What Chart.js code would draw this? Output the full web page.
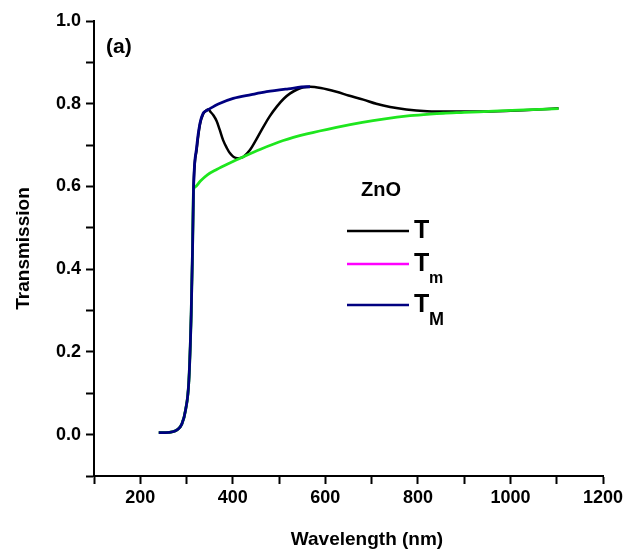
<!DOCTYPE html>
<html>
<head>
<meta charset="utf-8">
<script src="https://cdn.jsdelivr.net/npm/chart.js@4/dist/chart.umd.min.js"></script>
<style>
  html, body { margin: 0; padding: 0; background: #fff; }
</style>
</head>
<body>
<canvas id="chart" width="640" height="556"></canvas>
<script>
// shared absorption edge (all three curves overlap here)
const edgeWl = [240, 255, 270, 280, 290, 298, 305, 310, 313, 315];
const edgeT  = [0.005, 0.005, 0.007, 0.012, 0.026, 0.06, 0.13, 0.29, 0.45, 0.59];

// T (measured transmission)
const tWl = [322, 329, 336, 343, 347, 352, 358, 365, 372, 379, 387, 394, 402, 410, 417, 423, 437, 450, 466, 480, 495, 510, 524, 540, 553, 567, 590, 624, 650, 682, 710, 740, 775, 820, 870, 930, 1000, 1060, 1104];
const tVal = [0.69, 0.75, 0.775, 0.784, 0.786, 0.78, 0.772, 0.758, 0.736, 0.712, 0.693, 0.68, 0.671, 0.668, 0.669, 0.672, 0.688, 0.712, 0.744, 0.77, 0.793, 0.812, 0.825, 0.835, 0.84, 0.841, 0.838, 0.829, 0.82, 0.81, 0.8, 0.792, 0.786, 0.782, 0.781, 0.781, 0.783, 0.786, 0.789];

// Tm (lower envelope)
const tmWl  = [318, 330, 345, 365, 390, 423, 460, 509, 560, 624, 680, 725, 783, 826, 855, 900, 963, 1030, 1104];
const tmVal = [0.598, 0.613, 0.628, 0.641, 0.655, 0.672, 0.69, 0.711, 0.727, 0.743, 0.755, 0.763, 0.771, 0.775, 0.777, 0.779, 0.782, 0.785, 0.788];

// TM (upper envelope)
const tMWl  = [322, 329, 336, 341, 347, 370, 401, 440, 473, 520, 560, 567];
const tMVal = [0.696, 0.753, 0.777, 0.782, 0.786, 0.8, 0.813, 0.822, 0.829, 0.836, 0.841, 0.841];

const xTicks = [200, 400, 600, 800, 1000, 1200];
const yTicks = [0.0, 0.2, 0.4, 0.6, 0.8, 1.0];

const FONT = "'Liberation Sans', Arial, sans-serif";

function toPoints(wl, val) {
    const pts = [];
    edgeWl.forEach((w, i) => pts.push({ x: w, y: edgeT[i] }));
    wl.forEach((w, i) => pts.push({ x: w, y: val[i] }));
    return pts;
}

const legendItems = [
    { text: "T", sub: "", color: "#000000" },
    { text: "T", sub: "m", color: "#ff00ff" },
    { text: "T", sub: "M", color: "#000080" }
];

// draws the in-plot legend, the panel tag and the x title
const annotations = {
    id: "annotations",
    afterDraw(chart) {
        const ctx = chart.ctx;
        ctx.save();
        ctx.fillStyle = "#000";
        ctx.textBaseline = "middle";
        ctx.textAlign = "left";
        ctx.font = "bold 21px " + FONT;
        ctx.fillText("(a)", 106, 47);

        ctx.font = "bold 20px " + FONT;
        ctx.fillText("ZnO", 361, 190);

        const rows = [231, 264, 305];
        legendItems.forEach((item, i) => {
            const y = rows[i];
            ctx.strokeStyle = item.color;
            ctx.lineWidth = 2.5;
            ctx.beginPath();
            ctx.moveTo(347, y);
            ctx.lineTo(409, y);
            ctx.stroke();
            ctx.fillStyle = "#000";
            ctx.font = "bold 25px " + FONT;
            ctx.fillText(item.text, 414, y);
            if (item.sub) {
                ctx.font = (item.sub === "m" ? "bold 16px " : "bold 18px ") + FONT;
                ctx.fillText(item.sub, 429, y + 15);
            }
        });

        ctx.font = "bold 19px " + FONT;
        ctx.textAlign = "center";
        ctx.fillText("Wavelength (nm)", 367, 540);
        ctx.restore();
    }
};

const ctx = document.getElementById("chart").getContext("2d");

new Chart(ctx, {
    type: "line",
    data: {
        datasets: [
            { label: "TM", data: toPoints(tMWl, tMVal), borderColor: "#000080", borderWidth: 2.8 },
            { label: "Tm", data: toPoints(tmWl, tmVal), borderColor: "#1ee61e", borderWidth: 2.8 },
            { label: "T", data: toPoints(tWl, tVal), borderColor: "#000000", borderWidth: 2.5 }
        ]
    },
    options: {
        responsive: false,
        animation: false,
        parsing: false,
        elements: {
            point: { radius: 0 },
            line: { cubicInterpolationMode: "monotone", fill: false }
        },
        layout: { padding: { top: 21, right: 37, left: 0, bottom: 0 } },
        plugins: {
            legend: { display: false },
            tooltip: { enabled: false }
        },
        scales: {
            x: {
                type: "linear",
                min: 100,
                max: 1200,
                afterFit(scale) { scale.height = 80; },
                afterBuildTicks(scale) {
                    const t = [];
                    for (let v = 100; v <= 1200; v += 100) t.push({ value: v });
                    scale.ticks = t;
                },
                ticks: {
                    autoSkip: false,
                    maxRotation: 0,
                    padding: 3,
                    color: "#000",
                    font: { family: FONT, size: 18, weight: "bold" },
                    callback: v => xTicks.includes(v) ? String(v) : ""
                },
                grid: { drawOnChartArea: false, tickLength: 8, tickWidth: 2, tickColor: "#000" },
                border: { color: "#000", width: 2 }
            },
            y: {
                min: -0.1,
                max: 1.0,
                afterFit(scale) { scale.width = 94; },
                afterBuildTicks(scale) {
                    const t = [];
                    for (let i = -1; i <= 10; i++) t.push({ value: i / 10 });
                    scale.ticks = t;
                },
                ticks: {
                    autoSkip: false,
                    padding: 5,
                    color: "#000",
                    font: { family: FONT, size: 18, weight: "bold" },
                    callback: v => {
                        const r = Math.round(v * 10) / 10;
                        return yTicks.some(t => Math.abs(t - r) < 1e-9) ? r.toFixed(1) : "";
                    }
                },
                grid: { drawOnChartArea: false, tickLength: 8, tickWidth: 2, tickColor: "#000" },
                border: { color: "#000", width: 2 },
                title: {
                    display: true,
                    text: "Transmission",
                    color: "#000",
                    padding: { top: 12, bottom: 0 },
                    font: { family: FONT, size: 19, weight: "bold" }
                }
            }
        }
    },
    plugins: [annotations]
});
</script>
</body>
</html>
